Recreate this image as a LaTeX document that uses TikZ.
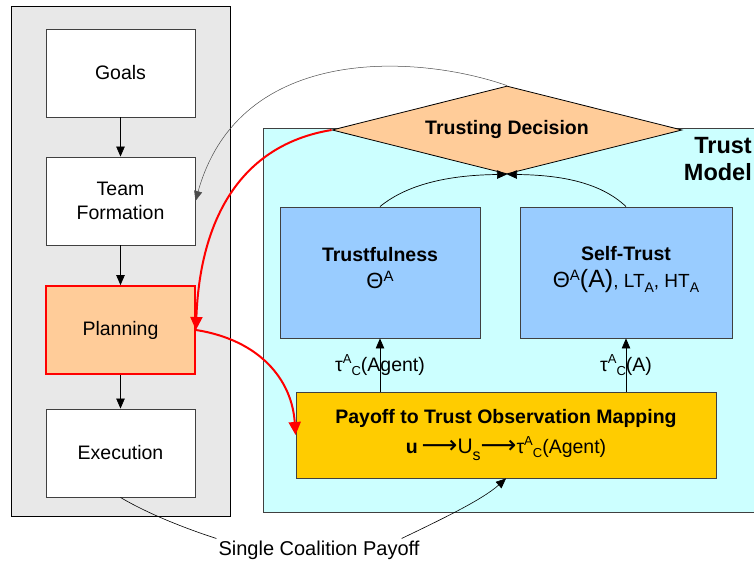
\documentclass[tikz,border=0pt]{standalone}
\usepackage{fontspec}
\setmainfont{Liberation Sans}
\newfontfamily\arrowfont{DejaVu Sans}
\usetikzlibrary{shapes.geometric,arrows.meta}

\newcommand\fsz[1]{\fontsize{#1}{#1}\selectfont}

\definecolor{panelgray}{HTML}{E8E8E8}
\definecolor{trustcyan}{HTML}{CCFFFF}
\definecolor{peach}{HTML}{FFCC99}
\definecolor{skyblue}{HTML}{99CCFF}
\definecolor{gold}{HTML}{FFCC00}
\definecolor{edgegray}{HTML}{404040}

\tikzset{
  base/.style={font=\fontsize{19.5}{23.5}\selectfont, text=black},
  stage/.style={base, draw=edgegray, fill=white, line width=0.9pt,
    minimum width=149pt, minimum height=88pt, inner sep=0pt, align=center},
  modelbox/.style={draw=edgegray, fill=skyblue, line width=0.9pt, inner sep=0pt},
  boxtext/.style={base, align=center, inner sep=0pt},
  arr/.style={-{Triangle[length=10pt,width=8.5pt]}, line width=0.7pt, draw=black},
  redarr/.style={-{Triangle[length=13pt,width=12pt]}, draw=red, line width=2pt},
  thinarr/.style={-{Triangle[length=10pt,width=8pt]}, draw=black!70, line width=0.5pt},
}

\begin{document}
\begin{tikzpicture}[x=1pt,y=-1pt]
\useasboundingbox (0,0) rectangle (754,564);
\clip (0,0) rectangle (754,564);

% team process panel
\draw[fill=panelgray, draw=black, line width=0.8pt] (11,6.5) rectangle (230,516);
% trust model panel
\draw[fill=trustcyan, draw=edgegray, line width=0.9pt] (263,128) rectangle (770,512);

% process stages
\node[stage] (goals) at (120.5,73)  {Goals};
\node[stage] (team)  at (120.5,201) {Team\\Formation};
\node[stage, fill=peach, draw=red, line width=1.8pt] (plan) at (120.5,330) {Planning};
\node[stage] (exec)  at (120.5,453) {Execution};

\draw[arr] (goals) -- (team);
\draw[arr] (team) -- (plan);
\draw[arr] (plan) -- (exec);

% trust model title
\node[base, font=\bfseries\fontsize{23.5}{27}\selectfont, align=right,
      anchor=north east, inner sep=0pt] (tmlabel) at (752,137) {Trust\\Model};

% trust components
\node[modelbox, minimum width=200pt, minimum height=131pt] (tf) at (380,272.5) {};
\node[boxtext] (tftext) at ([yshift=4.5pt]tf.center)
  {\textbf{Trustfulness}\\[3pt]{\fsz{22}Θ}\raisebox{7pt}{\fsz{15}A}};
\node[modelbox, minimum width=212pt, minimum height=131pt] (st) at (626,272.5) {};
\node[boxtext] (sttext) at ([yshift=3pt]st.center)
  {\textbf{Self-Trust}\\[4pt]{\fsz{19}{\fsz{22}Θ}\raisebox{7pt}{\fsz{15}A}{\fsz{25}(A)}, LT\raisebox{-5pt}{\fsz{14}A}, HT\raisebox{-5pt}{\fsz{14}A}}};

\node[base, draw=edgegray, fill=gold, line width=0.9pt, inner sep=0pt, align=center,
      minimum width=420pt, minimum height=86pt] (pay) at (506,435)
  {\textbf{Payoff to Trust Observation Mapping}\\[6pt]
   \textbf{u}\hspace{4pt}{\arrowfont\fsz{25}⟶}{\fsz{21}U}\raisebox{-7pt}{\fsz{16}s}{\arrowfont\fsz{25}⟶}τ\raisebox{8pt}{\fsz{13}A}\raisebox{-4pt}{\fsz{13}C}(Agent)};

% decision diamond
\node[base, font=\bfseries\fontsize{19.5}{23.5}\selectfont, diamond, shape aspect=4,
      draw=black, fill=peach, line width=0.8pt, inner sep=0pt,
      minimum width=350pt, minimum height=88pt] (dec) at (507,130) {Trusting Decision};

% observations feeding the trust components
\draw[arr] (pay.north -| tf.south) -- (tf.south)
  node[base, pos=0.5, inner sep=0pt] (obsA) {τ\raisebox{8pt}{\fsz{13}A}\raisebox{-4pt}{\fsz{13}C}(Agent)};
\draw[arr] (pay.north -| st.south) -- (st.south)
  node[base, pos=0.5, inner sep=0pt] (obsB) {τ\raisebox{8pt}{\fsz{13}A}\raisebox{-4pt}{\fsz{13}C}(A)};

% components feeding the decision
\draw[arr] (tf.north) .. controls (410,182) and (455,175) .. (dec.south);
\draw[arr] (st.north) .. controls (600,182) and (560,175) .. (dec.south);

% decision back to the process
\draw[thinarr] (dec.north) .. controls (420,55) and (240,42) .. (team.east);
\draw[redarr] (dec.west) .. controls (240,145) and (200,220) .. (plan.east);
\draw[redarr] (plan.east) .. controls (260,340) and (292,380) .. (pay.west);

% coalition payoff
\node[base, font=\fontsize{20}{24}\selectfont, inner sep=2pt] (scp) at (319,550) {Single Coalition Payoff};
\draw[line width=0.6pt] (exec.south) .. controls (150,515) and (190,530) .. (scp.north west);
\draw[arr, line width=0.6pt] ([xshift=-20pt]scp.north east) .. controls (440,520) and (482,500) .. (pay.south);
\end{tikzpicture}
\end{document}
